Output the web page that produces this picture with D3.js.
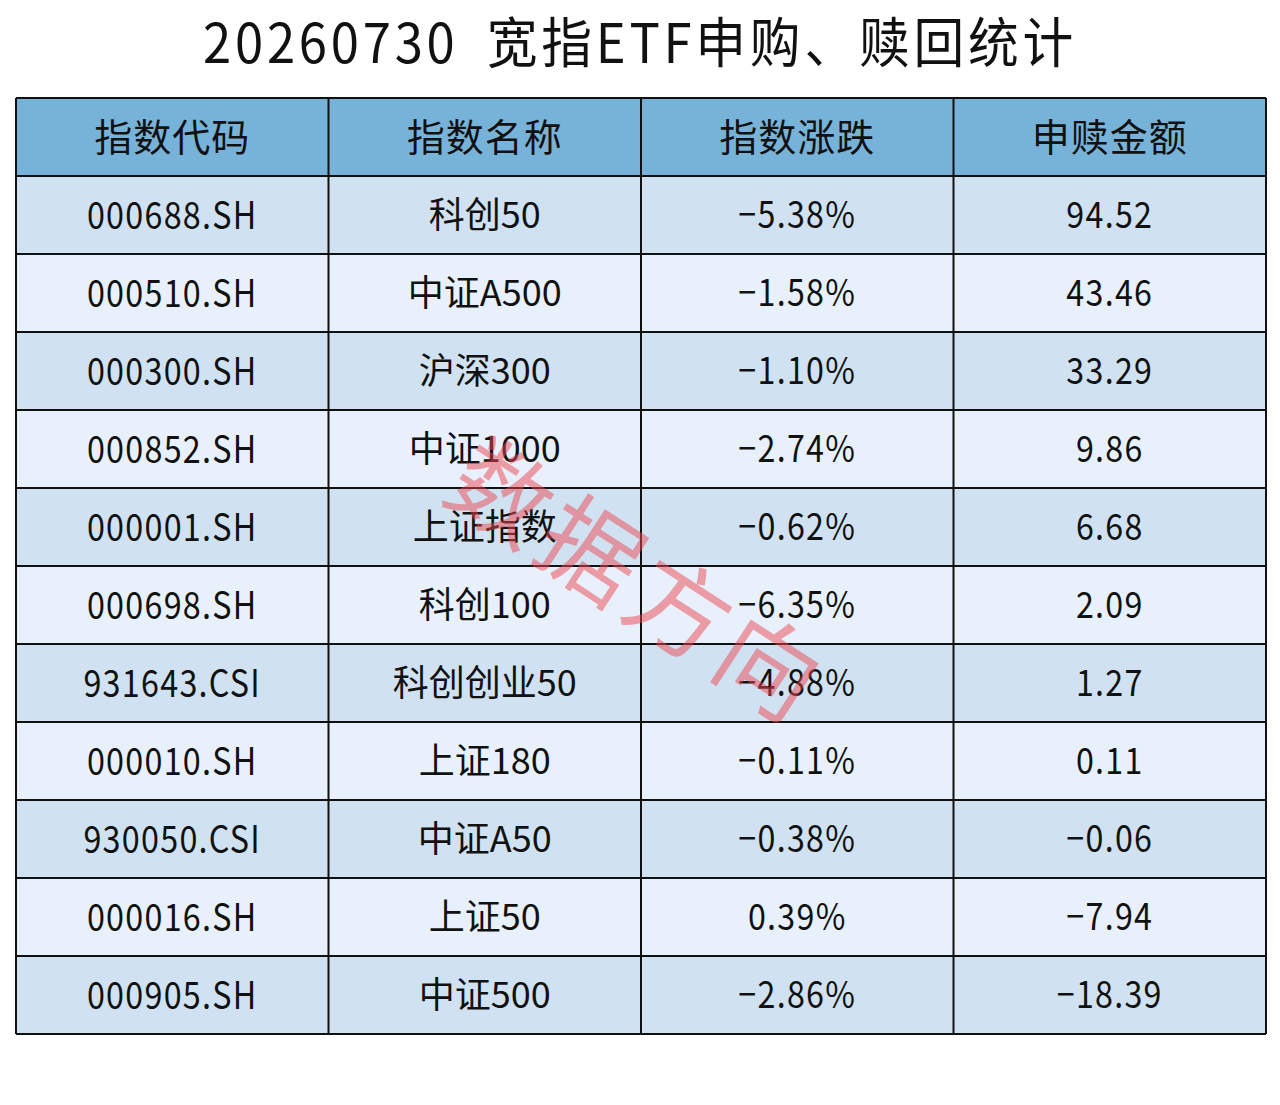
<!DOCTYPE html>
<html><head><meta charset="utf-8">
<script src="https://cdn.jsdelivr.net/npm/d3@7"></script>
<style>body{margin:0;background:#fff}svg{display:block}</style>
</head><body>
<svg id="c" width="1280" height="1105"></svg>
<script>
const title = "20260730 宽指ETF申购、赎回统计";
const headers = ["指数代码", "指数名称", "指数涨跌", "申赎金额"];
const codes = ["000688.SH","000510.SH","000300.SH","000852.SH","000001.SH","000698.SH","931643.CSI","000010.SH","930050.CSI","000016.SH","000905.SH"];
const names = ["科创50","中证A500","沪深300","中证1000","上证指数","科创100","科创创业50","上证180","中证A50","上证50","中证500"];
const changes = [-5.38,-1.58,-1.10,-2.74,-0.62,-6.35,-4.88,-0.11,-0.38,0.39,-2.86];
const amounts = [94.52,43.46,33.29,9.86,6.68,2.09,1.27,0.11,-0.06,-7.94,-18.39];
const watermark = "数据方向";

(function(){
const svg = d3.select("#c");
const font = "'Noto Sans CJK SC', 'Noto Sans', sans-serif";
const tLeft = 16, tRight = 1266, tTop = 98, headH = 78, rowH = 78;
const nRows = codes.length;

const x = d3.scaleBand().domain(d3.range(4)).range([tLeft, tRight]);
const y = d3.scaleBand().domain(d3.range(nRows)).range([tTop + headH, tTop + headH + rowH * nRows]);

const fmtPct = v => (v < 0 ? "−" : "") + Math.abs(v).toFixed(2) + "%";
const fmtNum = v => (v < 0 ? "−" : "") + Math.abs(v).toFixed(2);
const rows = codes.map((c, i) => [c, names[i], fmtPct(changes[i]), fmtNum(amounts[i])]);

// column text styles: [font-size, scaleX, letter-spacing]
const colStyle = [[38, 0.85, 1.5], [36, 1, 0], [37, 0.87, 1.5], [37, 0.87, 1.5]];

svg.append("text").attr("transform", "translate(640,63) scale(0.94,1)").attr("text-anchor", "middle")
  .attr("font-family", font).attr("font-size", 54).attr("fill", "#111")
  .attr("letter-spacing", 4).attr("word-spacing", 14).attr("xml:space", "preserve").text(title);

svg.append("rect").attr("x", tLeft).attr("y", tTop).attr("width", tRight - tLeft).attr("height", headH).attr("fill", "#77b3d9");
svg.selectAll("text.h").data(headers).join("text").attr("class", "h")
  .attr("x", (d, i) => x(i) + x.bandwidth() / 2).attr("y", tTop + headH / 2)
  .attr("dy", "0.36em").attr("text-anchor", "middle")
  .attr("font-family", font).attr("font-size", 38).attr("letter-spacing", 1).attr("fill", "#111").text(d => d);

const g = svg.selectAll("g.r").data(rows).join("g").attr("class", "r");
g.append("rect").attr("x", tLeft).attr("y", (d, i) => y(i)).attr("width", tRight - tLeft).attr("height", rowH)
  .attr("fill", (d, i) => i % 2 === 0 ? "#d0e2f2" : "#e8f1fb");
g.each(function(row, i) {
  d3.select(this).selectAll("text").data(row).join("text")
    .attr("transform", (d, j) => `translate(${x(j) + x.bandwidth() / 2},${y(i) + rowH / 2}) scale(${colStyle[j][1]},1)`)
    .attr("dy", "0.36em").attr("text-anchor", "middle")
    .attr("font-family", font).attr("font-size", (d, j) => colStyle[j][0])
    .attr("letter-spacing", (d, j) => colStyle[j][2]).attr("fill", "#111")
    .text(d => d);
});

const bottom = tTop + headH + rowH * nRows;
const hl = [tTop, tTop + headH].concat(d3.range(nRows).map(i => y(i) + rowH));
svg.selectAll("line.hl").data(hl).join("line").attr("class", "hl")
  .attr("x1", tLeft).attr("x2", tRight).attr("y1", d => d).attr("y2", d => d)
  .attr("stroke", "#111").attr("stroke-width", 2);
const vl = d3.range(4).map(i => x(i)).concat([tRight]);
svg.selectAll("line.vl").data(vl).join("line").attr("class", "vl")
  .attr("x1", d => d).attr("x2", d => d).attr("y1", tTop).attr("y2", bottom)
  .attr("stroke", "#111").attr("stroke-width", 2);

svg.append("text").attr("transform", "translate(637,582) rotate(33)")
  .attr("text-anchor", "middle").attr("dy", "0.36em")
  .attr("font-family", font).attr("font-size", 100).attr("fill", "rgba(238,70,80,0.5)")
  .attr("letter-spacing", 6).text(watermark);
})();
</script>
</body></html>
